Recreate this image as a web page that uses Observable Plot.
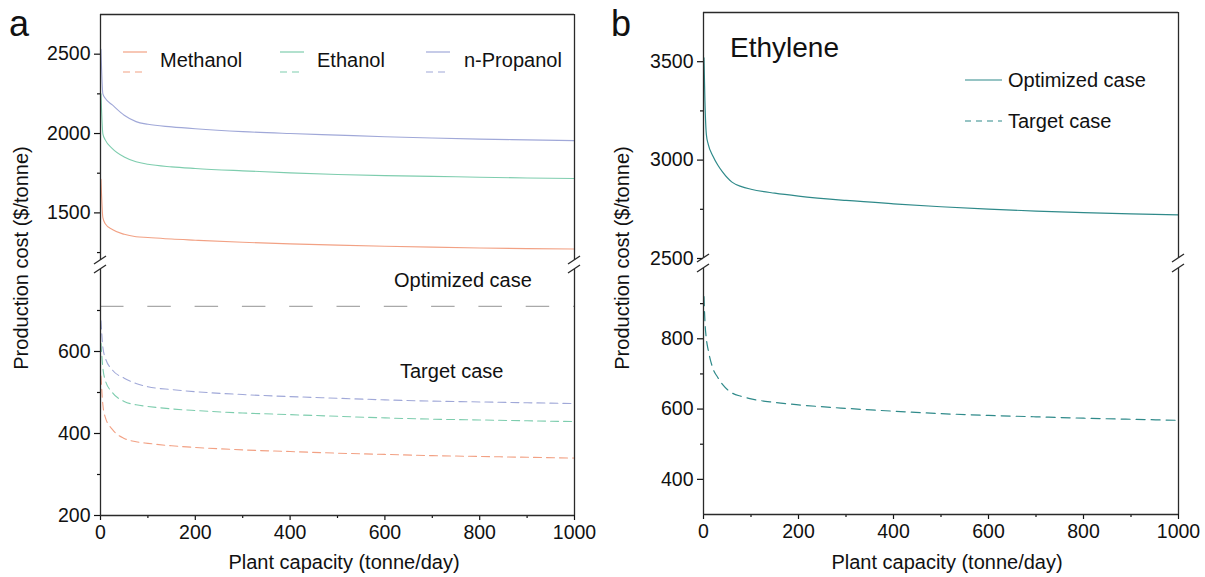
<!DOCTYPE html>
<html><head><meta charset="utf-8">
<script src="https://cdn.jsdelivr.net/npm/d3@7"></script>
<script src="https://cdn.jsdelivr.net/npm/@observablehq/plot@0.6"></script>
<style>
body{margin:0;background:#fff;}
#chart{position:relative;width:1205px;height:577px;overflow:hidden;background:#fff;font-family:"Liberation Sans",Arial,Helvetica,sans-serif;color:#111;}
#chart svg{position:absolute;}
.lbl{position:absolute;white-space:nowrap;line-height:1.2;}
.rot{position:absolute;white-space:nowrap;line-height:1;transform:translate(-50%,-50%) rotate(-90deg);}
</style></head><body><div id="chart"></div><script>
// ---------- data ----------
const capacityA = [1, 5, 10, 25, 50, 75, 100, 150, 200, 300, 400, 500, 600, 700, 800, 900, 1000];
const compounds = ["Methanol", "Ethanol", "n-Propanol"];
const methanolOptimized = [1712, 1470, 1432, 1395, 1365, 1350, 1345, 1335, 1328, 1315, 1305, 1297, 1290, 1284, 1279, 1275, 1272];
const ethanolOptimized  = [2250, 1998, 1960, 1905, 1852, 1822, 1806, 1790, 1780, 1765, 1752, 1742, 1735, 1730, 1725, 1720, 1717];
const propanolOptimized = [2530, 2250, 2222, 2180, 2115, 2075, 2058, 2042, 2030, 2012, 2000, 1990, 1980, 1972, 1965, 1960, 1955];
const methanolTarget = [540, 470, 440, 410, 388, 380, 376, 370, 366, 360, 356, 352, 349, 346, 344, 342, 340];
const ethanolTarget  = [620, 560, 530, 500, 478, 470, 466, 460, 456, 450, 446, 442, 438, 435, 433, 431, 429];
const propanolTarget = [675, 610, 585, 555, 535, 522, 514, 507, 502, 495, 490, 486, 482, 479, 477, 475, 473];
const optimizedLevelA = 710;

const capacityB = [1, 3, 6, 10, 20, 30, 40, 60, 80, 100, 150, 200, 300, 400, 500, 600, 700, 800, 900, 1000];
const ethyleneOptimized = [3520, 3300, 3130, 3080, 3020, 2975, 2940, 2888, 2865, 2852, 2832, 2817, 2795, 2778, 2763, 2751, 2741, 2733, 2727, 2722];
const ethyleneTarget    = [920, 850, 800, 768, 715, 690, 670, 646, 636, 629, 619, 612, 602, 594, 587, 582, 578, 574, 571, 568];

const xTicks = [0, 200, 400, 600, 800, 1000];
const xMinor = [100, 300, 500, 700, 900];
const aUpperTicks = [1500, 2000, 2500], aUpperMinor = [1250, 1750, 2250];
const aLowerTicks = [200, 400, 600], aLowerMinor = [300, 500, 700];
const bUpperTicks = [2500, 3000, 3500], bUpperMinor = [2750, 3250];
const bLowerTicks = [400, 600, 800], bLowerMinor = [500, 700, 900];

// ---------- styles ----------
const FONT = '"Liberation Sans", Arial, Helvetica, sans-serif';
const AXIS = "#2a2a2a";
const compoundColors = ["#F2A184", "#7ECDAE", "#A0A8D8"];
const ethyleneColor = "#2F8A8A";
const TICK_FS = 19.5, TXT_FS = 20;

const rows = (xs, ys, name) => xs.map((x, i) => ({x, y: ys[i], name}));
const optRowsA = [...rows(capacityA, methanolOptimized, compounds[0]), ...rows(capacityA, ethanolOptimized, compounds[1]), ...rows(capacityA, propanolOptimized, compounds[2])];
const tgtRowsA = [...rows(capacityA, methanolTarget, compounds[0]), ...rows(capacityA, ethanolTarget, compounds[1]), ...rows(capacityA, propanolTarget, compounds[2])];
const optRowsB = rows(capacityB, ethyleneOptimized, "Optimized case");
const tgtRowsB = rows(capacityB, ethyleneTarget, "Target case");

function breakMark(where, xs) {
  return (...args) => {
    const scales = args.find(a => a && typeof a.x === "function");
    const dims = args.find(a => a && a.marginLeft !== undefined && a.width !== undefined);
    if (!scales || !dims) return null;
    const g = d3.create("svg:g").attr("stroke", AXIS).attr("stroke-width", 1.3).attr("fill", "none");
    const y = where === "bottom" ? dims.height - dims.marginBottom : dims.marginTop;
    for (const v of xs) {
      const x = scales.x(v);
      g.append("line").attr("x1", x - 6).attr("y1", y + 4).attr("x2", x + 6).attr("y2", y - 4);
    }
    return g.node();
  };
}

const common = (w, h, ml, mr, mt, mb) => ({
  width: w, height: h, marginLeft: ml, marginRight: mr, marginTop: mt, marginBottom: mb,
  style: {fontFamily: FONT, fontSize: TICK_FS + "px", color: "#111", background: "transparent", overflow: "visible"}
});
const yAxes = (major, minor) => [
  Plot.axisY({ticks: major, tickSize: 6, tickPadding: 4, tickFormat: "d", label: null, strokeWidth: 1.2}),
  Plot.axisY({ticks: minor, tickSize: 3, tickFormat: () => "", label: null, strokeWidth: 1.2})
];
const xAxes = () => [
  Plot.axisX({ticks: xTicks, tickSize: 5, tickPadding: 5, tickFormat: "d", label: null, strokeWidth: 1.2}),
  Plot.axisX({ticks: xMinor, tickSize: 3, tickFormat: () => "", label: null, strokeWidth: 1.2})
];
const frameX = () => Plot.ruleX([0, 1000], {stroke: AXIS, strokeWidth: 1.3});
const colorScale = {domain: compounds, range: compoundColors};

const aUp = Plot.plot({
  ...common(600, 265, 100, 26, 14, 5),
  x: {domain: [0, 1000], axis: null},
  y: {domain: [1200, 2750]},
  color: colorScale,
  marks: [
    ...yAxes(aUpperTicks, aUpperMinor),
    Plot.line(optRowsA, {x: "x", y: "y", z: "name", stroke: "name", strokeWidth: 1.1, curve: "monotone-x"}),
    frameX(),
    Plot.ruleY([2750], {stroke: AXIS, strokeWidth: 1.3}),
    breakMark("bottom", [0, 1000])
  ]
});
const aLo = Plot.plot({
  ...common(600, 312, 100, 26, 4, 62),
  x: {domain: [0, 1000]},
  y: {domain: [200, 800]},
  color: colorScale,
  marks: [
    ...yAxes(aLowerTicks, aLowerMinor),
    ...xAxes(),
    Plot.ruleY([optimizedLevelA], {stroke: "#a9a9a9", strokeWidth: 1.3, strokeDasharray: "23.5,23.8"}),
    Plot.line(tgtRowsA, {x: "x", y: "y", z: "name", stroke: "name", strokeWidth: 1.1, strokeDasharray: "8,5", curve: "monotone-x"}),
    frameX(),
    Plot.ruleY([200], {stroke: AXIS, strokeWidth: 1.3}),
    breakMark("top", [0, 1000])
  ]
});
const bUp = Plot.plot({
  ...common(605, 264, 103, 27, 12, 6),
  x: {domain: [0, 1000], axis: null},
  y: {domain: [2500, 3750]},
  marks: [
    ...yAxes(bUpperTicks, bUpperMinor),
    Plot.line(optRowsB, {x: "x", y: "y", stroke: ethyleneColor, strokeWidth: 1.2, curve: "monotone-x"}),
    frameX(),
    Plot.ruleY([3750], {stroke: AXIS, strokeWidth: 1.3}),
    breakMark("bottom", [0, 1000])
  ]
});
const bLo = Plot.plot({
  ...common(605, 313, 103, 27, 4, 63),
  x: {domain: [0, 1000]},
  y: {domain: [300, 1000]},
  marks: [
    ...yAxes(bLowerTicks, bLowerMinor),
    ...xAxes(),
    Plot.line(tgtRowsB, {x: "x", y: "y", stroke: ethyleneColor, strokeWidth: 1.2, strokeDasharray: "9,6", curve: "monotone-x"}),
    frameX(),
    Plot.ruleY([300], {stroke: AXIS, strokeWidth: 1.3}),
    breakMark("top", [0, 1000])
  ]
});

const chart = document.getElementById("chart");
function place(el, left, top) { el.style.left = left + "px"; el.style.top = top + "px"; chart.appendChild(el); }
place(aUp, 0, 0); place(aLo, 0, 265); place(bUp, 600, 0); place(bLo, 600, 264);

function label(text, left, cy, fs, extra = {}) {
  const d = document.createElement("div");
  d.className = "lbl"; d.textContent = text; d.style.fontSize = fs + "px";
  Object.assign(d.style, extra);
  place(d, left, cy - 0.589 * fs);
  return d;
}
function rotLabel(text, cx, cy, fs) {
  const d = document.createElement("div");
  d.className = "rot"; d.textContent = text; d.style.fontSize = fs + "px";
  place(d, cx, cy);
}
function centerLabel(text, cx, cy, fs) {
  const d = label(text, cx, cy, fs);
  d.style.transform = "translateX(-50%)";
}
function swatch(x1, x2, y, color, dash) {
  const s = d3.create("svg").attr("width", x2 - x1 + 2).attr("height", 4).style("overflow", "visible");
  s.append("line").attr("x1", 1).attr("x2", x2 - x1 + 1).attr("y1", 2).attr("y2", 2)
    .attr("stroke", color).attr("stroke-width", 1.2).attr("stroke-dasharray", dash || null);
  place(s.node(), x1 - 1, y - 2);
}

// panel letters
label("a", 9, 23, 36);
label("b", 611, 23, 36);

// legend panel a
const legSw = [123, 280, 426], legTx = [160, 317, 464];
compounds.forEach((c, i) => {
  swatch(legSw[i], legSw[i] + 24, 52, compoundColors[i]);
  swatch(legSw[i], legSw[i] + 24, 72, compoundColors[i], "7,5");
  label(c, legTx[i], 60, TXT_FS);
});
label("Optimized case", 394, 280, TXT_FS);
label("Target case", 400, 371, TXT_FS);

// panel b texts
label("Ethylene", 730, 47, 28);
swatch(965, 1002, 80, ethyleneColor);
label("Optimized case", 1008, 80, TXT_FS);
swatch(965, 1002, 121, ethyleneColor, "6,5");
label("Target case", 1008, 121, TXT_FS);

// axis titles
rotLabel("Production cost ($/tonne)", 21, 258, TXT_FS);
rotLabel("Production cost ($/tonne)", 622, 258, TXT_FS);
centerLabel("Plant capacity (tonne/day)", 344, 562, TXT_FS);
centerLabel("Plant capacity (tonne/day)", 947, 562, TXT_FS);
</script></body></html>
